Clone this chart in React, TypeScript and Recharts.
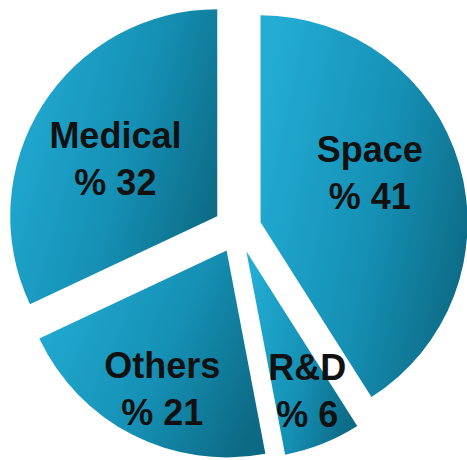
import * as React from 'react';
import { PieChart, Pie, Sector } from 'recharts';

// Share of activity by field, clockwise from 12 o'clock
const categories = ['Space', 'R&D', 'Others', 'Medical'];
const shares = [41, 6, 21, 32];

const RADIAN = Math.PI / 180;
const WIDTH = 467;
const HEIGHT = 460;
const CENTER_X = 237.5;
const CENTER_Y = 229;
const RADIUS = 207;
const EXPLODE = 24;

const chartData = categories.map((name, i) => ({ name, value: shares[i] }));

// push every slice outward along its own mid angle
function ExplodedSlice(props: any) {
  const { cx, cy, midAngle } = props;
  const dx = EXPLODE * Math.cos(midAngle * RADIAN);
  const dy = -EXPLODE * Math.sin(midAngle * RADIAN);
  return <Sector {...props} cx={cx + dx} cy={cy + dy} fill="url(#sliceFill)" stroke="none" />;
}

function SliceLabel(props: any) {
  const { cx, cy, midAngle, outerRadius, name, value } = props;
  const ox = cx + EXPLODE * Math.cos(midAngle * RADIAN);
  const oy = cy - EXPLODE * Math.sin(midAngle * RADIAN);
  // thin slices need the text further out to fit
  const big = value >= 30;
  const r = outerRadius * (big ? 0.56 : 0.735);
  const a = (midAngle + (big ? 6 : 2)) * RADIAN;
  const x = ox + r * Math.cos(a) + (big ? 2 : 0);
  const y = oy - r * Math.sin(a) - (big ? 16.5 : 10.5);
  return (
    <text
      x={x}
      y={y}
      textAnchor="middle"
      fill="#111"
      fontFamily="'Liberation Sans', Arial, sans-serif"
      fontWeight="bold"
      fontSize={36}
    >
      <tspan x={x} dy={0}>{name}</tspan>
      <tspan x={x} dy={47}>{`% ${value}`}</tspan>
    </text>
  );
}

export default function App() {
  return (
    <div style={{ position: 'absolute', left: 0, top: 0, width: WIDTH, height: HEIGHT, background: '#fff' }}>
      <PieChart width={WIDTH} height={HEIGHT} margin={{ top: 0, right: 0, bottom: 0, left: 0 }}>
        <defs>
          <linearGradient id="sliceFill" x1="0" y1="0.3" x2="1" y2="0.7">
            <stop offset="0%" stopColor="#22abd3" />
            <stop offset="55%" stopColor="#1590b4" />
            <stop offset="100%" stopColor="#0d6a85" />
          </linearGradient>
        </defs>
        <Pie
          data={chartData}
          dataKey="value"
          nameKey="name"
          cx={CENTER_X}
          cy={CENTER_Y}
          outerRadius={RADIUS}
          startAngle={90}
          endAngle={-270}
          stroke="none"
          fill="url(#sliceFill)"
          shape={ExplodedSlice}
          label={SliceLabel}
          labelLine={false}
          isAnimationActive={false}
        />
      </PieChart>
    </div>
  );
}
